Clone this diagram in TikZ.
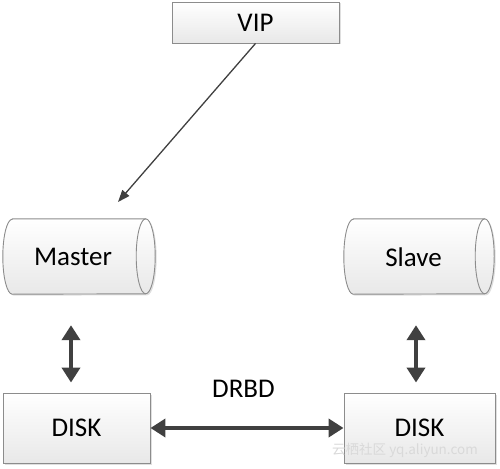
\documentclass[tikz,border=0pt]{standalone}
\usepackage{fontspec}
\setmainfont{Carlito}
\newfontfamily\cjk{Noto Sans CJK SC}
\usetikzlibrary{arrows.meta,shadows,calc}
\definecolor{edgegray}{HTML}{8C8C8C}
\definecolor{arrowgray}{HTML}{404040}
\definecolor{fillbot}{HTML}{E8E8E8}
\tikzset{
  boxstyle/.style={draw=edgegray, line width=0.9pt, top color=white, bottom color=fillbot,
    drop shadow={opacity=0.25, shadow xshift=1.5pt, shadow yshift=-1.5pt},
    inner sep=0pt, font=\fontsize{27}{31}\selectfont},
  cylbody/.style={inner sep=0pt},
  cylfill/.style={draw=edgegray, line width=0.9pt, top color=white, bottom color=fillbot,
    drop shadow={opacity=0.25, shadow xshift=1.5pt, shadow yshift=-1.5pt}},
  cylline/.style={draw=edgegray, line width=0.9pt},
  dblarrow/.style={draw=arrowgray, line width=4.5pt,
    {Triangle[length=15pt,width=18pt]}-{Triangle[length=15pt,width=18pt]}},
  viparrow/.style={draw=arrowgray, line width=1.3pt, -{Triangle[length=12pt,width=9pt]}},
  lbl/.style={font=\fontsize{27}{31}\selectfont, text=black},
  wmark/.style={font=\cjk\fontsize{13.5}{15}\selectfont, text=gray!30}
}
\newcommand{\drawcyl}[3]{% name, rx, ry
  \path[cylfill] ([xshift=#2]#1.north west) -- ([xshift=-#2]#1.north east)
    arc[start angle=90, end angle=-90, x radius=#2, y radius=#3]
    -- ([xshift=#2]#1.south west)
    arc[start angle=270, end angle=90, x radius=#2, y radius=#3] -- cycle;
  \draw[cylline] ([xshift=-#2]#1.north east)
    arc[start angle=90, end angle=270, x radius=#2, y radius=#3];
}
\begin{document}
\begin{tikzpicture}[x=1pt, y=-1pt]
\useasboundingbox (0,0) rectangle (500,468);

% VIP box
\node[boxstyle, minimum width=167pt, minimum height=41pt] (vip) at (255.5,22.5) {VIP};

% cylinders
\node[cylbody, minimum width=152pt, minimum height=75pt] (mastercyl) at (79,256.5) {};
\drawcyl{mastercyl}{9.5pt}{37.5pt}
\node[lbl] (mastertext) at ($(mastercyl.center)+(-6,0.5)$) {Master};

\node[cylbody, minimum width=150pt, minimum height=75pt] (slavecyl) at (419,256.5) {};
\drawcyl{slavecyl}{9.5pt}{37.5pt}
\node[lbl] (slavetext) at ($(slavecyl.center)+(-5.5,0.5)$) {Slave};

% disks
\node[boxstyle, minimum width=147pt, minimum height=70pt] (disk1) at (76.5,428) {DISK};
\node[boxstyle, minimum width=151pt, minimum height=70pt] (disk2) at (419.5,428) {DISK};

% watermark
\node[wmark] (wm) at (405,450) {云栖社区 yq.aliyun.com};

% arrows
\coordinate (viptip) at (118,202);
\draw[viparrow] (vip.south) -- (viptip);

\draw[dblarrow, shorten <=31pt, shorten >=10pt] ([xshift=-8pt]mastercyl.south) -- ([xshift=-5.5pt]disk1.north);
\draw[dblarrow, shorten <=31pt, shorten >=10pt] ([xshift=-3pt]slavecyl.south) -- ([xshift=-3.5pt]disk2.north);

\draw[dblarrow] (disk1) -- (disk2) node[lbl, midway, xshift=-3.5pt, yshift=39pt] (drbd) {DRBD};
\end{tikzpicture}
\end{document}
